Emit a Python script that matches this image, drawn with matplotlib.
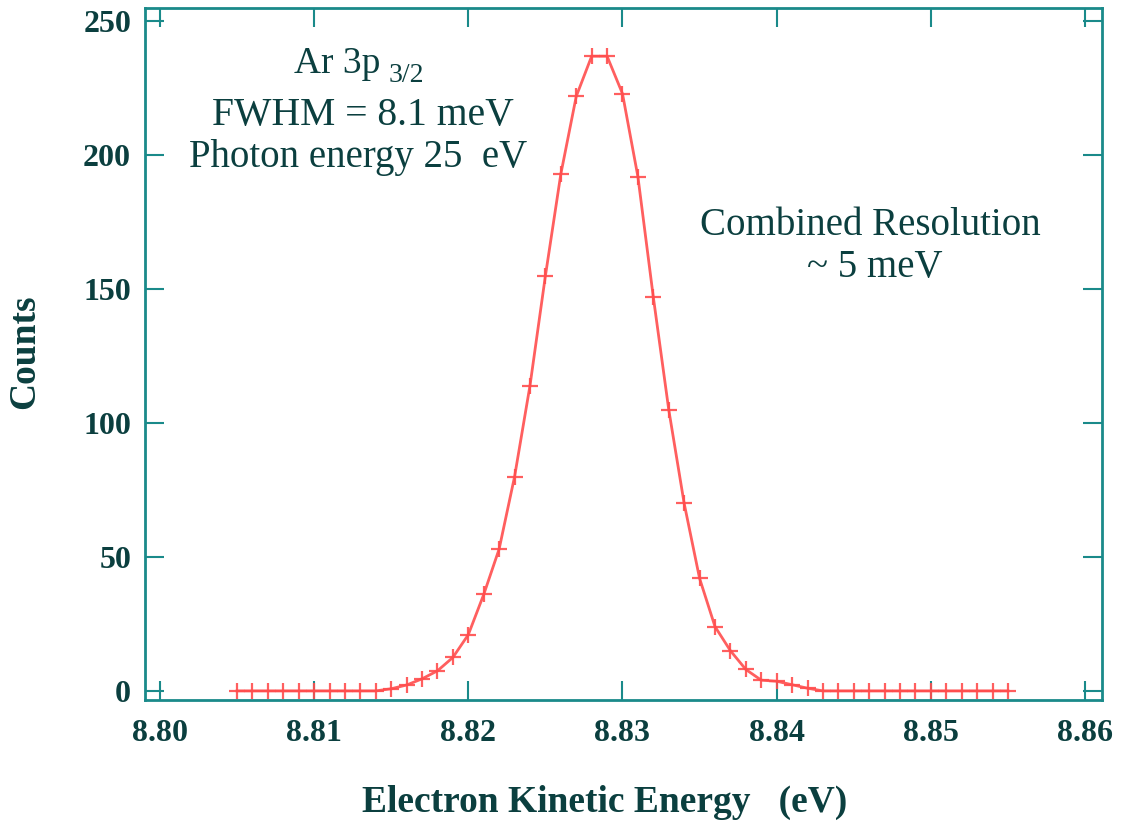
import numpy as np
import matplotlib
matplotlib.use("Agg")
import matplotlib.pyplot as plt

# Ar 3p3/2 photoelectron line, counts per 1 meV step
energy_ev = [8.805, 8.806, 8.807, 8.808, 8.809, 8.810, 8.811, 8.812, 8.813, 8.814,
             8.815, 8.816, 8.817, 8.818, 8.819, 8.820, 8.821, 8.822, 8.823, 8.824,
             8.825, 8.826, 8.827, 8.828, 8.829, 8.830, 8.831, 8.832, 8.833, 8.834,
             8.835, 8.836, 8.837, 8.838, 8.839, 8.840, 8.841, 8.842, 8.843, 8.844,
             8.845, 8.846, 8.847, 8.848, 8.849, 8.850, 8.851, 8.852, 8.853, 8.854,
             8.855]
counts = [0, 0, 0, 0, 0, 0, 0, 0, 0, 0,
          0.8, 2.2, 4.5, 7.5, 12.5, 21, 36, 53, 80, 114,
          155, 193, 222, 237, 237, 223, 192, 147, 105, 70,
          42, 24, 15, 8, 4, 3.6, 2.3, 1, 0, 0,
          0, 0, 0, 0, 0, 0, 0, 0, 0, 0,
          0]

x_ticks = [8.80, 8.81, 8.82, 8.83, 8.84, 8.85, 8.86]
y_ticks = [0, 50, 100, 150, 200, 250]

text_col = "#0b3f3f"
axis_col = "#1a8a8a"
line_col = "#ff4d4d"

plt.rcParams["font.family"] = ["Liberation Serif", "DejaVu Serif"]

W, H = 1128, 823
fig = plt.figure(figsize=(W / 100, H / 100), dpi=100)
ax = fig.add_axes([145 / W, 1 - 700 / H, (1102 - 145) / W, (700 - 8) / H])

ax.plot(energy_ev, counts, color=line_col, lw=2.0, marker="+",
        ms=12, mew=1.6, alpha=0.9)

ax.set_xlim(8.79903, 8.8611)
ax.set_ylim(-3.4, 255)
ax.set_xticks(x_ticks)
ax.set_xticklabels([f"{v:.2f}" for v in x_ticks])
ax.set_yticks(y_ticks)

for s in ax.spines.values():
    s.set_color(axis_col)
    s.set_linewidth(2.0)

ax.tick_params(direction="in", length=14, width=1.5, color=axis_col,
               top=True, right=True, labelsize=23, labelcolor=text_col)
ax.tick_params(axis="x", pad=14)
ax.tick_params(axis="y", pad=10)
for lab in ax.get_xticklabels() + ax.get_yticklabels():
    lab.set_fontweight("bold")


# annotations, placed in figure pixels (baseline)
def fig_text(px, py, s, va="baseline", **kw):
    fig.text(px / W, 1 - py / H, s, ha="center", va=va,
             color=text_col, **kw)


fig_text(337, 73, "Ar 3p", fontsize=27)
fig_text(406, 82, "3/2", fontsize=20)
fig_text(363, 125, "FWHM = 8.1 meV", fontsize=28.5)
fig_text(358, 167, "Photon energy 25  eV", fontsize=28)
fig_text(870, 235, "Combined Resolution", fontsize=28)
fig_text(875, 277, "~ 5 meV", fontsize=28)

fig_text(605, 802, "Electron Kinetic Energy   (eV)", va="center",
         fontsize=27, fontweight="bold")
fig_text(25, 352, "Counts", va="center", fontsize=27, fontweight="bold",
         rotation=90)

fig.savefig("out.png", dpi=100, facecolor="white")
